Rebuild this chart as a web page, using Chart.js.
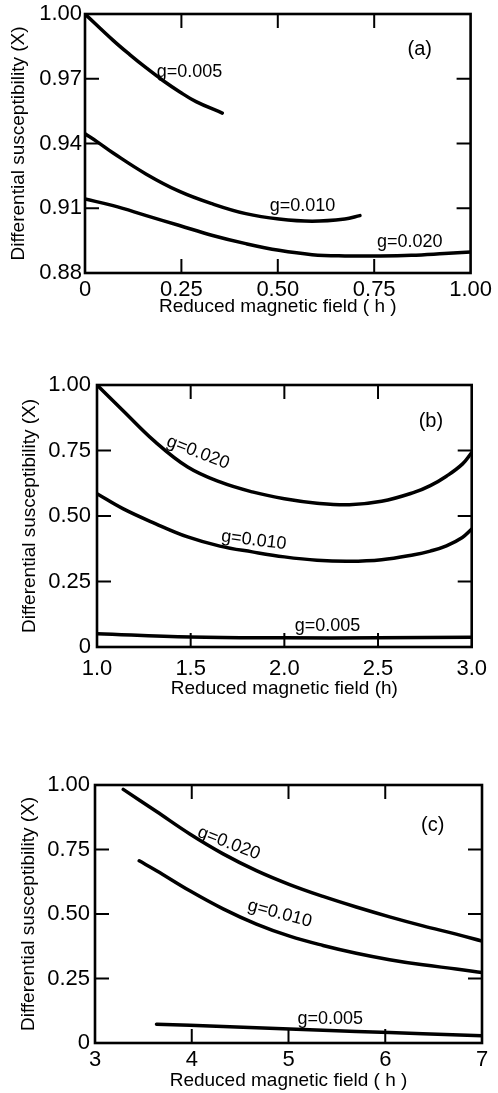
<!DOCTYPE html>
<html><head><meta charset="utf-8">
<script src="https://cdn.jsdelivr.net/npm/chart.js@4.4.1/dist/chart.umd.min.js"></script>
<style>
html,body{margin:0;padding:0;background:#fff;width:498px;height:1093px;overflow:hidden;position:relative}
canvas{position:absolute;left:0}
</style></head>
<body>
<canvas id="ca" width="498" height="330" style="top:0px"></canvas>
<canvas id="cb" width="498" height="370" style="top:340px"></canvas>
<canvas id="cc" width="498" height="363" style="top:730px"></canvas>
<script>
// ---------- DATA ----------
const yTitle = 'Differential susceptibility (X)';
const xTitleA = 'Reduced magnetic field ( h )';
const xTitleB = 'Reduced magnetic field (h)';
const xTitleC = 'Reduced magnetic field ( h )';

// Panel (a)
const xTicksA = [0, 0.25, 0.5, 0.75, 1.0];
const xTickLabelsA = ['0', '0.25', '0.50', '0.75', '1.00'];
const yTicksA = [0.88, 0.91, 0.94, 0.97, 1.00];
const yTickLabelsA = ['0.88', '0.91', '0.94', '0.97', '1.00'];
const hA005 = [0, 0.073, 0.116, 0.159, 0.202, 0.245, 0.288, 0.356];
const chiA005 = [1.000, 0.9878, 0.9812, 0.9750, 0.9692, 0.9640, 0.9594, 0.9541];
const hA010 = [0, 0.03, 0.073, 0.159, 0.245, 0.331, 0.417, 0.503, 0.589, 0.674, 0.713];
const chiA010 = [0.9445, 0.941, 0.9356, 0.9258, 0.9178, 0.9120, 0.9075, 0.9050, 0.9040, 0.9050, 0.9066];
const hA020 = [0, 0.073, 0.159, 0.245, 0.331, 0.417, 0.503, 0.589, 0.674, 0.76, 0.846, 0.932, 1.0];
const chiA020 = [0.9143, 0.9112, 0.9066, 0.902, 0.8974, 0.8936, 0.8905, 0.8885, 0.8879, 0.8879, 0.8882, 0.889, 0.8897];

// Panel (b)
const xTicksB = [1.0, 1.5, 2.0, 2.5, 3.0];
const xTickLabelsB = ['1.0', '1.5', '2.0', '2.5', '3.0'];
const yTicksB = [0, 0.25, 0.5, 0.75, 1.0];
const yTickLabelsB = ['0', '0.25', '0.50', '0.75', '1.00'];
const hB020 = [1.0, 1.138, 1.311, 1.484, 1.656, 1.829, 2.0, 2.174, 2.347, 2.519, 2.692, 2.779, 2.865, 2.95, 3.0];
const chiB020 = [1.0, 0.903, 0.783, 0.687, 0.630, 0.592, 0.566, 0.549, 0.543, 0.556, 0.590, 0.616, 0.652, 0.698, 0.742];
const hB010 = [1.0, 1.138, 1.311, 1.484, 1.656, 1.829, 2.0, 2.174, 2.347, 2.519, 2.692, 2.779, 2.865, 2.95, 3.0];
const chiB010 = [0.585, 0.528, 0.471, 0.420, 0.385, 0.363, 0.344, 0.331, 0.327, 0.333, 0.352, 0.366, 0.386, 0.418, 0.450];
const hB005 = [1.0, 1.5, 2.0, 2.5, 3.0];
const chiB005 = [0.051, 0.038, 0.035, 0.035, 0.037];

// Panel (c)
const xTicksC = [3, 4, 5, 6, 7];
const xTickLabelsC = ['3', '4', '5', '6', '7'];
const yTicksC = [0, 0.25, 0.5, 0.75, 1.0];
const yTickLabelsC = ['0', '0.25', '0.50', '0.75', '1.00'];
const hC020 = [3.292, 3.636, 3.98, 4.324, 4.668, 5.012, 5.357, 5.70, 6.045, 6.389, 6.733, 7.0];
const chiC020 = [0.983, 0.897, 0.810, 0.733, 0.668, 0.614, 0.568, 0.527, 0.489, 0.454, 0.422, 0.395];
const hC010 = [3.457, 3.636, 3.98, 4.324, 4.668, 5.012, 5.357, 5.70, 6.045, 6.389, 6.733, 7.0];
const chiC010 = [0.706, 0.668, 0.590, 0.520, 0.461, 0.414, 0.378, 0.348, 0.323, 0.303, 0.287, 0.273];
const hC005 = [3.636, 4.324, 5.012, 5.70, 6.389, 7.0];
const chiC005 = [0.073, 0.064, 0.054, 0.045, 0.036, 0.028];

const seriesNames = ['g=0.005', 'g=0.010', 'g=0.020'];

// ---------- RENDERING ----------
Chart.defaults.font.family = "'Liberation Sans', Arial, sans-serif";
Chart.defaults.color = '#000';

const pts = (xs, ys) => xs.map((x, i) => ({x: x, y: ys[i]}));

const frameTicks = {
  id: 'frameTicks',
  afterDatasetsDraw(chart, args, opts) {
    const {ctx, chartArea: a, scales: {x, y}} = chart;
    ctx.save();
    ctx.strokeStyle = '#000';
    ctx.lineWidth = 2.6;
    ctx.strokeRect(a.left, a.top, a.right - a.left, a.bottom - a.top);
    ctx.lineWidth = 2;
    const L = 14;
    const seg = (x1, y1, x2, y2) => { ctx.beginPath(); ctx.moveTo(x1, y1); ctx.lineTo(x2, y2); ctx.stroke(); };
    x.ticks.forEach(t => {
      const p = x.getPixelForValue(t.value);
      if (p <= a.left + 2 || p >= a.right - 2) return;
      seg(p, a.bottom, p, a.bottom - L);
      seg(p, a.top, p, a.top + L);
    });
    y.ticks.forEach(t => {
      const p = y.getPixelForValue(t.value);
      if (p <= a.top + 2 || p >= a.bottom - 2) return;
      seg(a.left, p, a.left + L, p);
      seg(a.right, p, a.right - L, p);
    });
    ctx.fillStyle = '#000';
    (opts.labels || []).forEach(l => {
      const px = x.getPixelForValue(l.x), py = y.getPixelForValue(l.y);
      ctx.save();
      ctx.translate(px, py);
      ctx.rotate((l.angle || 0) * Math.PI / 180);
      ctx.font = (l.size || 18) + "px 'Liberation Sans', Arial, sans-serif";
      ctx.textAlign = 'center';
      ctx.textBaseline = 'middle';
      ctx.fillText(l.text, 0, 0);
      ctx.restore();
    });
    ctx.restore();
  }
};

function makeChart(id, datasets, xT, xL, yT, yL, xTitle, lay, labels) {
  const line = (d) => ({
    data: d.data, label: d.label, borderColor: '#000', borderWidth: 3.5,
    pointRadius: 0, tension: 0.4, fill: false,
    borderCapStyle: 'round', borderJoinStyle: 'round'
  });
  return new Chart(document.getElementById(id), {
    type: 'line',
    data: {datasets: datasets.map(line)},
    options: {
      responsive: false, animation: false, devicePixelRatio: 1,
      layout: {padding: lay.pad},
      plugins: {legend: {display: false}, tooltip: {enabled: false}, frameTicks: {labels: labels}},
      scales: {
        x: {
          type: 'linear', min: xT[0], max: xT[xT.length - 1],
          afterBuildTicks: s => { s.ticks = xT.map(v => ({value: v})); },
          afterFit: s => { s.height = lay.xH; },
          grid: {display: false, drawTicks: false},
          border: {display: false},
          ticks: {padding: lay.xTickPad, maxRotation: 0, autoSkip: false,
                  font: {size: 22, lineHeight: 1.0},
                  callback: (v) => { const i = xT.findIndex(t => Math.abs(t - v) < 1e-9); return i >= 0 ? xL[i] : ''; }},
          title: {display: true, text: xTitle, font: {size: 19, lineHeight: 1.2}, padding: {top: 0, bottom: lay.xTitlePad}}
        },
        y: {
          type: 'linear', min: yT[0], max: yT[yT.length - 1],
          afterBuildTicks: s => { s.ticks = yT.map(v => ({value: v})); },
          afterFit: s => { s.width = lay.yW; },
          grid: {display: false, drawTicks: false},
          border: {display: false},
          ticks: {padding: lay.yTickPad, font: {size: 22, lineHeight: 1.0},
                  callback: (v) => { const i = yT.findIndex(t => Math.abs(t - v) < 1e-9); return i >= 0 ? yL[i] : ''; }},
          title: {display: true, text: yTitle, font: {size: 19, lineHeight: 1.2}, padding: {top: lay.yTitlePad, bottom: 0}}
        }
      }
    },
    plugins: [frameTicks]
  });
}

makeChart('ca', [
  {label: seriesNames[0], data: pts(hA005, chiA005)},
  {label: seriesNames[1], data: pts(hA010, chiA010)},
  {label: seriesNames[2], data: pts(hA020, chiA020)}
], xTicksA, xTickLabelsA, yTicksA, yTickLabelsA, xTitleA,
  {pad: {top: 12, left: 0, right: 26, bottom: 0}, yW: 85, xH: 57, xTickPad: 6, yTickPad: 3, xTitlePad: 11.6, yTitlePad: 7.6},
  [
    {text: 'g=0.005', x: 0.271, y: 0.973, angle: 0},
    {text: 'g=0.010', x: 0.564, y: 0.9112, angle: 0},
    {text: 'g=0.020', x: 0.842, y: 0.8943, angle: 0},
    {text: '(a)', x: 0.868, y: 0.9836, angle: 0, size: 20}
  ]);

makeChart('cb', [
  {label: seriesNames[2], data: pts(hB020, chiB020)},
  {label: seriesNames[1], data: pts(hB010, chiB010)},
  {label: seriesNames[0], data: pts(hB005, chiB005)}
], xTicksB, xTickLabelsB, yTicksB, yTickLabelsB, xTitleB,
  {pad: {top: 45, left: 0, right: 16, bottom: 0}, yW: 97, xH: 63, xTickPad: 11, yTickPad: 6, xTitlePad: 9.6, yTitlePad: 18.6},
  [
    {text: 'g=0.020', x: 1.539, y: 0.742, angle: 21},
    {text: 'g=0.010', x: 1.837, y: 0.407, angle: 7},
    {text: 'g=0.005', x: 2.23, y: 0.080, angle: 0},
    {text: '(b)', x: 2.782, y: 0.859, angle: 0, size: 20}
  ]);

makeChart('cc', [
  {label: seriesNames[2], data: pts(hC020, chiC020)},
  {label: seriesNames[1], data: pts(hC010, chiC010)},
  {label: seriesNames[0], data: pts(hC005, chiC005)}
], xTicksC, xTickLabelsC, yTicksC, yTickLabelsC, xTitleC,
  {pad: {top: 55, left: 0, right: 16, bottom: 0}, yW: 95, xH: 50, xTickPad: 6, yTickPad: 5, xTitlePad: 0.6, yTitlePad: 17.6},
  [
    {text: 'g=0.020', x: 4.383, y: 0.774, angle: 21},
    {text: 'g=0.010', x: 4.909, y: 0.501, angle: 15},
    {text: 'g=0.005', x: 5.432, y: 0.094, angle: 0},
    {text: '(c)', x: 6.49, y: 0.845, angle: 0, size: 20}
  ]);
</script>
</body></html>
